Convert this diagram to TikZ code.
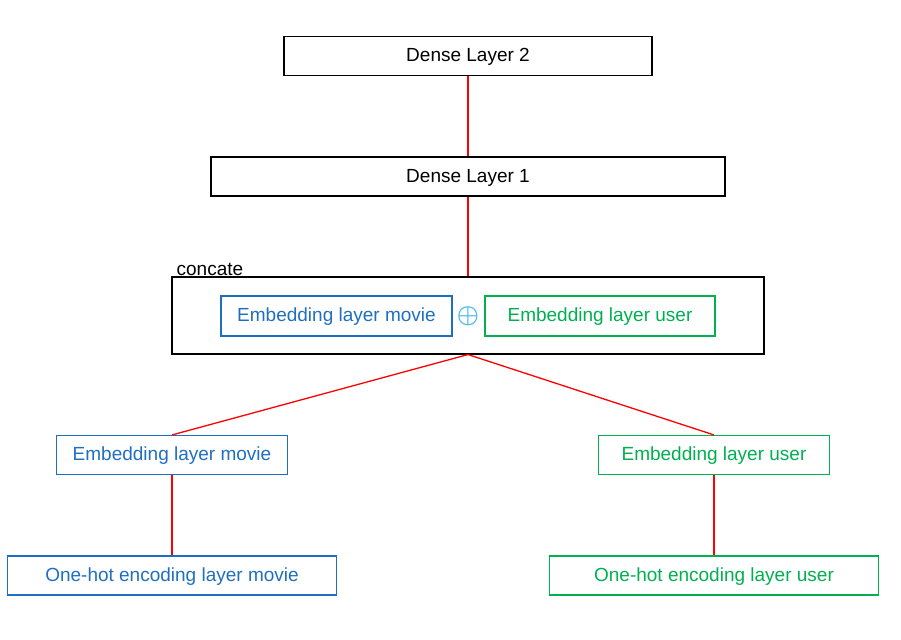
\documentclass[tikz,border=0pt]{standalone}
\usepackage{fontspec}
\setmainfont{Liberation Sans}
\usepackage{xcolor}
\usetikzlibrary{positioning}

\definecolor{movieblue}{HTML}{1F6FC0}
\definecolor{usergreen}{HTML}{00B050}
\definecolor{plusblue}{HTML}{4FB8E8}

\tikzset{
    layer/.style={draw, line width=1.1pt, rectangle, inner sep=0pt, minimum height=39pt,
        text height=13.7pt, text depth=1.9pt, font=\fontsize{19}{22}\selectfont},
    movie/.style={layer, draw=movieblue, text=movieblue},
    user/.style={layer, draw=usergreen, text=usergreen},
    link/.style={draw=red, line width=1.3pt}
}

\begin{document}
\begin{tikzpicture}[x=1pt, y=-1pt]
    \useasboundingbox (0,0) rectangle (901,639);

    % dense part
    \node[layer, minimum width=368pt] (dense2) at (468,56) {Dense Layer 2};
    \node[layer, minimum width=514pt] (dense1) at (468,176.5) {Dense Layer 1};

    % concatenation
    \node[layer, minimum width=592pt, minimum height=77pt] (concat) at (468,315.5) {};
    \node[above right=0pt and 4pt of concat.north west, inner sep=1pt,
        font=\fontsize{19}{22}\selectfont] (concatlabel) {concate};
    \node[movie, minimum width=231pt, minimum height=40pt] (embmoviein) at (336.5,316) {Embedding layer movie};
    \node[user, minimum width=230pt, minimum height=40pt] (embuserin) at (600,316) {Embedding layer user};
    \node[text=plusblue, inner sep=0pt, font=\boldmath\fontsize{27}{29}\selectfont] (plus) at (468,316) {$\oplus$};

    % inputs
    \node[movie, minimum width=231pt] (embmovie) at (172,455) {Embedding layer movie};
    \node[user, minimum width=231pt] (embuser) at (714,455) {Embedding layer user};
    \node[movie, minimum width=329pt] (onehotmovie) at (172,575.5) {One-hot encoding layer movie};
    \node[user, minimum width=329pt] (onehotuser) at (714,575.5) {One-hot encoding layer user};

    % connectors
    \draw[link] (dense2) -- (dense1);
    \draw[link] (dense1) -- (concat);
    \draw[link] (concat.south) -- (embmovie.north);
    \draw[link] (concat.south) -- (embuser.north);
    \draw[link] (embmovie) -- (onehotmovie);
    \draw[link] (embuser) -- (onehotuser);
\end{tikzpicture}
\end{document}
